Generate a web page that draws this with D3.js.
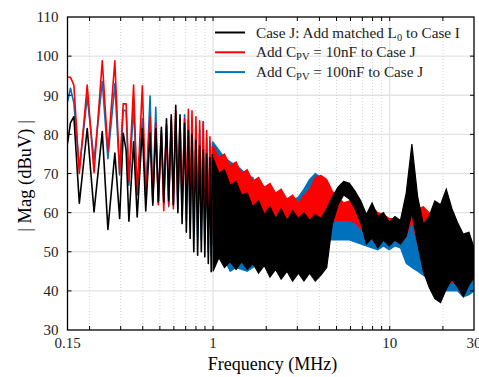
<!DOCTYPE html>
<html lang="en">
	<head>
		<meta charset="utf-8">
		<title>Conducted EMI spectrum</title>
		<script src="https://d3js.org/d3.v7.min.js"></script>
		<style type="text/css">
			body { margin: 0; background: #fff; }
			svg { font-family: "Liberation Serif", "Times New Roman", serif; }
			.grid-major { stroke: #e3e3e3; stroke-width: 1.3px; }
			.grid-minor { stroke: #d4d4d4; stroke-width: 1px; stroke-dasharray: 1,2; }
			.frame { fill: none; stroke: #000; stroke-width: 1.3px; }
			.tick-mark { stroke: #000; stroke-width: 1px; }
			.tick-label { font-size: 15px; fill: #222; }
		</style>
	</head>
	<body>
		<script type="text/javascript">

			//Width and height
			var w = 479;
			var h = 377;
			var pLeft = 67.5, pRight = 474, pTop = 17, pBottom = 330;

			//Low frequency part, discrete harmonics (MHz)
			var fLow = [0.150, 0.156, 0.163, 0.175, 0.194, 0.212, 0.236, 0.254, 0.278, 0.296,
						0.310, 0.322, 0.334, 0.355, 0.372, 0.398, 0.416, 0.440, 0.456, 0.474,
						0.490, 0.510, 0.526, 0.545, 0.561, 0.580, 0.596, 0.615, 0.632, 0.650,
						0.668, 0.690, 0.706, 0.725, 0.742, 0.760, 0.778, 0.800, 0.818, 0.840,
						0.858, 0.880, 0.898, 0.920, 0.940, 0.960, 0.976, 0.992];

			var blackLow = [77.7, 83.0, 84.5, 62.4, 81.5, 60.2, 80.7, 55.7, 75.2, 58.5,
							80.3, 76.0, 57.8, 78.1, 58.9, 81.5, 60.4, 80.3, 61.9, 81.5,
							62.8, 81.8, 62.8, 84.0, 63.0, 85.0, 62.0, 87.4, 60.0, 85.0,
							57.2, 82.8, 55.0, 81.0, 53.4, 80.0, 50.0, 78.5, 49.1, 77.0,
							50.0, 76.0, 48.7, 75.0, 47.0, 74.0, 44.9, 75.0];

			var redLow = [94.6, 94.6, 92.6, 70.0, 92.6, 70.2, 98.8, 75.6, 98.8, 70.0,
						  87.8, 87.8, 68.0, 92.6, 64.5, 92.4, 64.0, 84.6, 62.5, 83.0,
						  62.0, 80.0, 60.5, 82.5, 62.0, 84.0, 61.0, 86.0, 63.0, 84.0,
						  62.0, 84.0, 63.0, 86.4, 61.0, 86.0, 60.0, 84.5, 59.0, 83.5,
						  58.0, 83.2, 57.0, 81.0, 56.0, 79.4, 55.0, 77.0];

			var blueLow = [88.3, 91.8, 88.0, 71.3, 89.6, 73.4, 93.5, 73.8, 92.9, 69.6,
						   86.2, 86.0, 67.0, 87.0, 66.0, 84.0, 64.0, 89.8, 63.0, 86.9,
						   62.5, 81.0, 62.0, 82.0, 61.5, 83.0, 62.0, 84.0, 61.0, 83.0,
						   59.0, 85.0, 58.0, 83.5, 56.0, 83.2, 55.0, 82.0, 54.0, 81.0,
						   53.0, 83.2, 52.0, 79.0, 50.0, 77.7, 49.0, 78.0];

			//High frequency part, dense spectrum given as upper / lower envelope (MHz)
			var fBand = [1.0, 1.08, 1.16, 1.25, 1.35, 1.45, 1.56, 1.68, 1.81, 1.95,
						 2.1, 2.26, 2.43, 2.62, 2.82, 3.04, 3.27, 3.52, 3.79, 4.08,
						 4.4, 4.73, 5.1, 5.49, 5.91, 6.36, 6.85, 7.38, 7.95, 8.56,
						 9.22, 9.93, 10.7, 11.5, 12.4, 13.35, 14.4, 15.5, 16.7, 18.0,
						 19.4, 20.9, 22.5, 24.2, 26.1, 28.1, 30];

			var blackUp = [74, 70, 71, 67, 68, 64.5, 65, 61.5, 63, 59.5,
						   61.5, 58.5, 61, 58, 60.5, 58.5, 60, 58, 59.5, 58.5,
						   61, 64, 66.5, 68, 67.5, 65.5, 63, 59.5, 62.5, 59,
						   60, 57.5, 59, 58, 65, 77.5, 64, 57, 59, 63,
						   62, 66, 61, 57.5, 54.5, 55, 51];
			var blackLo = [45, 48.5, 46, 47.5, 45.5, 47.5, 45.5, 47, 44.5, 46.5,
						   43.5, 45.5, 43, 45, 42.5, 44.5, 42.5, 44.5, 42.5, 44,
						   46, 57, 62, 64.5, 63.5, 61, 57.5, 52, 53.5, 51,
						   53, 51.5, 53, 52, 54, 60, 52, 45, 41, 38,
						   37, 40.5, 43, 41, 38.5, 41.5, 43.5];

			var redUp = [77, 74, 75, 72, 73, 70, 71, 68, 69, 66.5,
						 67.5, 65, 66, 63.5, 64.5, 62.5, 64.5, 66, 69, 69.5,
						 68.5, 65.5, 64, 62.5, 63, 61, 61.5, 59.5, 61.5, 60,
						 59.5, 58.5, 58.5, 57.5, 60, 68, 61, 61.5, 60, 57,
						 55, 54, 53, 54, 53, 53, 51];
			var redLo = [55, 56, 55, 56, 56, 55, 55, 55, 54, 54,
						 54, 53, 53, 53, 52, 52, 53, 54, 55, 55,
						 55, 58, 58, 58, 58, 57.5, 56, 54, 53, 53,
						 53, 53, 53, 52, 54, 58, 52, 50, 47, 45,
						 43, 43, 42, 43, 41, 42, 43];

			var blueUp = [78, 76, 74, 73, 72, 71, 69.5, 69, 66, 65,
						  64, 63.5, 63, 63, 63, 64, 66, 68.5, 70, 69,
						  64, 61, 60, 59, 59.5, 59, 57, 56.5, 57, 56,
						  56, 55.5, 55, 54.5, 55, 58.5, 54, 55, 54, 52,
						  50, 50, 49, 50, 49, 50, 48];
			var blueLo = [52, 50, 48, 45, 46, 45.5, 45, 46, 47, 48,
						  47, 48, 47.5, 48, 48, 48, 49, 50, 52, 53,
						  53, 53, 53, 53, 53, 52.5, 52, 51.5, 51, 50.5,
						  51.5, 50.5, 51.5, 51, 47, 46, 45, 44, 43, 41,
						  40, 40, 40, 40, 38.5, 39, 40];

			//Axis ticks
			var yTicks = [30, 40, 50, 60, 70, 80, 90, 100, 110];
			var xLabels = [0.15, 1, 10, 30];
			var xMajor = [1, 10];
			var xMinor = [0.2, 0.3, 0.4, 0.5, 0.6, 0.7, 0.8, 0.9, 2, 3, 4, 5, 6, 7, 8, 9, 20];

			//Legend
			var legendColors = ["#000000", "#ff0000", "#0072bd"];
			var legendParts = [
				["Case J: Add matched L", "0", " to Case I"],
				["Add C", "PV", " = 10nF to Case J"],
				["Add C", "PV", " = 100nF to Case J"]
			];

			//Scales
			var x = d3.scaleLog().domain([0.15, 30]).range([pLeft, pRight]);
			var y = d3.scaleLinear().domain([30, 110]).range([pBottom, pTop]);

			//Create SVG element
			var svg = d3.select("body")
						.append("svg")
						.attr("width", w)
						.attr("height", h);

			svg.append("defs").append("clipPath")
				.attr("id", "plot-clip")
				.append("rect")
				.attr("x", pLeft).attr("y", pTop)
				.attr("width", pRight - pLeft).attr("height", pBottom - pTop);

			//Grid
			var grid = svg.append("g");
			grid.selectAll(".gy")
				.data(yTicks.slice(1, -1))
				.enter().append("line")
				.attr("class", "grid-major")
				.attr("x1", pLeft).attr("x2", pRight)
				.attr("y1", d => y(d)).attr("y2", d => y(d));
			grid.selectAll(".gxm")
				.data(xMinor)
				.enter().append("line")
				.attr("class", "grid-minor")
				.attr("y1", pTop).attr("y2", pBottom)
				.attr("x1", d => x(d)).attr("x2", d => x(d));
			grid.selectAll(".gxM")
				.data(xMajor)
				.enter().append("line")
				.attr("class", "grid-major")
				.attr("y1", pTop).attr("y2", pBottom)
				.attr("x1", d => x(d)).attr("x2", d => x(d));

			//Data
			var plot = svg.append("g").attr("clip-path", "url(#plot-clip)");

			var line = d3.line()
						.x(d => x(d[0]))
						.y(d => y(d[1]));

			var band = d3.area()
						.x(d => x(d[0]))
						.y0(d => y(d[1]))
						.y1(d => y(d[2]));

			var series = [
				{color: "#0072bd", low: blueLow, up: blueUp, lo: blueLo},
				{color: "#ff0000", low: redLow, up: redUp, lo: redLo},
				{color: "#000000", low: blackLow, up: blackUp, lo: blackLo}
			];

			series.forEach(function(s) {
				var pts = fLow.map((f, i) => [f, s.low[i]]);
				plot.append("path")
					.attr("d", line(pts))
					.attr("fill", "none")
					.attr("stroke", s.color)
					.attr("stroke-width", 1.6)
					.attr("stroke-linejoin", "round");

				var env = fBand.map((f, i) => [f, s.lo[i], s.up[i]]);
				plot.append("path")
					.attr("d", band(env))
					.attr("fill", s.color)
					.attr("stroke", s.color)
					.attr("stroke-width", 1.2)
					.attr("stroke-linejoin", "miter");
			});

			//Frame and ticks
			svg.append("rect")
				.attr("class", "frame")
				.attr("x", pLeft).attr("y", pTop)
				.attr("width", pRight - pLeft).attr("height", pBottom - pTop);

			var tl = 4;
			var ticks = svg.append("g");
			yTicks.slice(1, -1).forEach(function(v) {
				ticks.append("line").attr("class", "tick-mark")
					.attr("x1", pLeft).attr("x2", pLeft + tl).attr("y1", y(v)).attr("y2", y(v));
				ticks.append("line").attr("class", "tick-mark")
					.attr("x1", pRight).attr("x2", pRight - tl).attr("y1", y(v)).attr("y2", y(v));
			});
			xMinor.concat(xMajor).forEach(function(v) {
				ticks.append("line").attr("class", "tick-mark")
					.attr("x1", x(v)).attr("x2", x(v)).attr("y1", pBottom).attr("y2", pBottom - tl);
				ticks.append("line").attr("class", "tick-mark")
					.attr("x1", x(v)).attr("x2", x(v)).attr("y1", pTop).attr("y2", pTop + tl);
			});

			//Tick labels
			svg.selectAll(".ylab")
				.data(yTicks)
				.enter().append("text")
				.attr("class", "tick-label")
				.attr("x", pLeft - 9)
				.attr("y", d => y(d))
				.attr("dy", "0.35em")
				.attr("text-anchor", "end")
				.text(d => d);

			svg.selectAll(".xlab")
				.data(xLabels)
				.enter().append("text")
				.attr("class", "tick-label")
				.attr("x", d => x(d))
				.attr("y", 348)
				.attr("text-anchor", "middle")
				.text(d => d);

			//Axis titles
			svg.append("text")
				.attr("x", 272.5)
				.attr("y", 370)
				.attr("text-anchor", "middle")
				.style("font-size", "18px")
				.text("Frequency (MHz)");

			svg.append("text")
				.attr("transform", "translate(31,176)rotate(-90)")
				.attr("text-anchor", "middle")
				.style("font-size", "18.5px")
				.text("| Mag (dBuV) |");

			//Legend
			var legend = svg.append("g");
			legendParts.forEach(function(p, i) {
				var ly = 32.5 + i * 19.8;
				legend.append("line")
					.attr("x1", 215).attr("x2", 245)
					.attr("y1", ly).attr("y2", ly)
					.attr("stroke", legendColors[i])
					.attr("stroke-width", 2);
				var t = legend.append("text")
					.attr("x", 256)
					.attr("y", ly + 5)
					.style("font-size", "15.2px")
					.attr("fill", "#222");
				t.append("tspan").text(p[0]);
				t.append("tspan")
					.attr("dy", 3)
					.style("font-size", "10.5px")
					.text(p[1]);
				t.append("tspan")
					.attr("dy", -3)
					.text(p[2]);
			});

		</script>
	</body>
</html>
